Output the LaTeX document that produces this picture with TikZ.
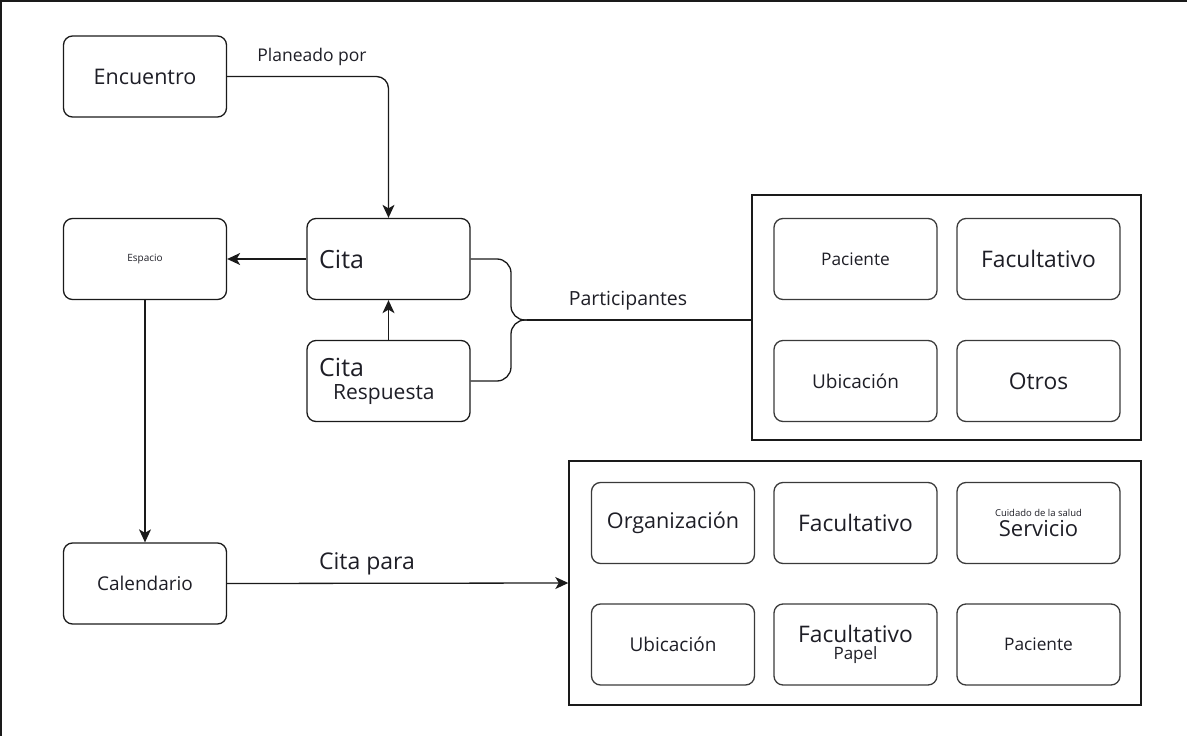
\documentclass[tikz,border=0pt]{standalone}
\usepackage{fontspec}
\setmainfont{Open Sans}
\usetikzlibrary{arrows.meta}
\definecolor{ink}{HTML}{1E1E26}
\definecolor{edge}{HTML}{1A1A1A}
\definecolor{celledge}{HTML}{3A3A3A}
\newcommand{\fs}[1]{\fontsize{#1}{#1}\selectfont}
\tikzset{
  box/.style={draw=edge, line width=1.3pt, rounded corners=9pt, align=center,
              text=ink, inner sep=0pt},
  bigbox/.style={box, minimum width=163pt, minimum height=81pt},
  cell/.style={draw=celledge, line width=1.3pt, rounded corners=9pt, align=center,
               text=ink, inner sep=0pt, minimum width=163pt, minimum height=81pt},
  frame/.style={draw=edge, line width=1.4pt, inner sep=0pt},
  link/.style={draw=edge, line width=1.3pt},
  arr/.style={link, -{Stealth[length=13pt,width=12pt,inset=3.5pt]}},
  lbl/.style={text=ink, inner sep=0pt}
}
\begin{document}
\begin{tikzpicture}[x=1pt,y=-1pt]
\useasboundingbox (0,0) rectangle (1187,736);
% cropped outer frame: only the left and top edges remain
\draw[line width=2.5pt, edge] (1.2,736) -- (1.2,1.2) -- (1187,1.2);

% left-hand chain
\node[bigbox] (enc) at (145,76.5) {\fs{21.5}Encuentro};
\node[bigbox] (esp) at (145,259) {\fs{10}Espacio};
\node[bigbox] (cita) at (388.5,259) {};
\node[anchor=west, lbl] at (319,259) {\fs{25}Cita};
\node[bigbox] (resp) at (388.5,381) {};
\node[anchor=west, lbl] at (319,367) {\fs{25}Cita};
\node[anchor=west, lbl] at (333,395) {\fs{21}Respuesta};
\node[bigbox] (cal) at (145,583.5) {\fs{19}Calendario};

% participants group
\node[frame, minimum width=389pt, minimum height=245pt] (grp1) at (946.5,317.5) {};
\node[cell] (pac1) at (855.5,259) {\fs{17.3}Paciente};
\node[cell] (fac1) at (1038.5,259) {\fs{22.8}Facultativo};
\node[cell] (ubi1) at (855.5,381) {\fs{19}Ubicación};
\node[cell] (otr1) at (1038.5,381) {\fs{22.8}Otros};

% appointment-for group
\node[frame, minimum width=572pt, minimum height=244pt] (grp2) at (855,583) {};
\node[cell] (org) at (673,523) {\fs{21.6}Organización};
\node[cell] (fac2) at (855.5,523) {\fs{22.8}Facultativo};
\node[cell] (serv) at (1038.5,523) {\fs{9.5}Cuidado de la salud\\[3pt]\fs{22}Servicio};
\node[cell] (ubi2) at (673,644.5) {\fs{19}Ubicación};
\node[cell] (pap) at (855.5,644.5) {\fs{22.8}Facultativo\\[3pt]\fs{17}Papel};
\node[cell] (pac2) at (1038.5,644.5) {\fs{17.3}Paciente};

% connectors
\draw[arr, rounded corners=12pt] (enc.east) -| (cita.north);
\node[lbl] at (312,57) {\fs{17.5}Planeado por};
\draw[arr] (cita.west) -- (esp.east);
\draw[arr] (resp.north) -- (cita.south);
\draw[arr] (esp.south) -- (cal.north);
\draw[arr] (cal.east) -- (grp2.west);
\node[lbl] at (367,564) {\fs{23}Cita para};

\coordinate (join) at (527,320);
\draw[link, rounded corners=14pt] (cita.east) -- (511,259) -- (511,320) -- (join);
\draw[link, rounded corners=14pt] (resp.east) -- (511,381) -- (511,320) -- (join);
\draw[link] (join) -- (grp1.west |- join);
\node[lbl] at (628,301) {\fs{19.5}Participantes};
\end{tikzpicture}
\end{document}
